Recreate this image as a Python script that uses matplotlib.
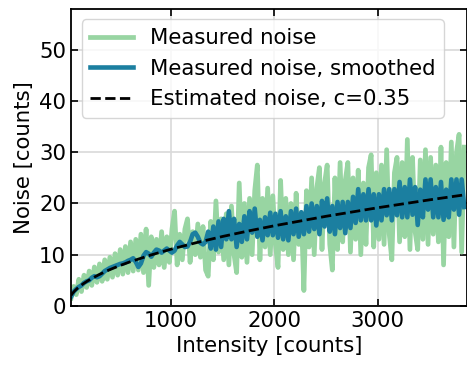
import numpy as np
import matplotlib
matplotlib.use("Agg")
import matplotlib.pyplot as plt

# ---------------- data ----------------
x_start = 35
x_step = 25

measured = [
    1.5, 3.8, 2.2, 5.2, 2.8, 6.0, 3.6, 6.8, 4.0, 7.6,
    4.6, 8.2, 4.8, 9.0, 5.2, 9.5, 5.6, 10.2, 6.0, 11.0,
    6.2, 11.6, 6.5, 12.5, 6.8, 13.0, 7.0, 14.0, 6.5, 15.0,
    4.0, 13.5, 7.5, 13.0, 8.0, 14.5, 7.5, 13.5, 8.5, 15.0,
    18.5, 8.0, 14.0, 9.0, 15.0, 17.0, 8.5, 14.5, 10.0, 16.0,
    9.5, 15.5, 7.0, 5.8, 16.5, 9.0, 20.5, 10.5, 17.0, 9.0,
    18.0, 8.0, 19.5, 10.0, 6.5, 24.0, 9.5, 20.0, 8.5, 21.0,
    10.0, 22.5, 27.5, 9.0, 21.0, 11.5, 23.0, 10.0, 21.5, 12.0,
    7.5, 24.5, 11.0, 21.0, 10.0, 20.0, 9.0, 22.0, 12.0, 18.0,
    3.0, 22.5, 11.5, 25.0, 10.0, 23.0, 27.0, 11.0, 24.0, 27.5,
    12.0, 7.0, 25.0, 11.0, 28.0, 12.5, 24.5, 28.0, 10.5, 25.0,
    13.0, 26.5, 10.0, 24.0, 12.0, 27.0, 29.5, 11.5, 26.0, 13.0,
    27.5, 12.0, 30.5, 14.0, 9.0, 26.0, 29.0, 12.5, 28.0, 13.5,
    32.5, 11.0, 29.0, 14.5, 11.0, 28.5, 13.0, 30.5, 12.0, 29.0,
    14.0, 27.5, 12.5, 31.0, 8.0, 28.0, 13.5, 32.0, 11.5, 30.0,
    33.5, 10.5, 31.0,
]

smoothed = [
    1.8, 2.8, 3.3, 3.7, 4.0, 4.5, 4.8, 5.0, 5.5, 5.8,
    5.6, 5.8, 6.3, 6.8, 7.1, 7.4, 7.6, 7.8, 8.0, 8.2,
    8.3, 8.5, 8.8, 9.0, 9.3, 8.6, 7.6, 8.3, 9.8, 10.5,
    10.2, 9.6, 10.4, 11.0, 10.8, 10.4, 10.8, 11.2, 10.8, 10.4,
    10.8, 11.8, 12.5, 12.0, 11.5, 11.6, 12.5, 14.0, 14.3, 13.5,
    12.3, 12.0, 12.5,
    14.5, 11.2, 15.5, 11.0, 16.5, 11.5, 17.0, 13.0, 18.5, 13.0,
    17.0, 11.5, 16.0, 12.5, 17.5, 13.0, 18.5, 14.3, 19.0, 13.5,
    16.8, 12.8, 17.3, 13.8, 18.2, 13.8, 18.0, 13.3, 18.5, 13.0,
    17.5, 12.8, 18.5, 14.0, 19.0, 13.5, 18.3, 14.0, 19.5, 14.5,
    20.0, 15.0, 19.5, 14.0, 20.5, 15.5, 21.0, 14.5, 19.5, 14.0,
    20.3, 15.2, 20.3, 14.2, 20.3, 15.2, 21.3, 16.2, 22.8, 16.7,
    21.8, 16.7, 22.8, 16.7, 21.8, 15.7, 21.8, 16.7, 22.8, 17.7,
    22.8, 16.7, 22.8, 17.7, 24.2, 17.3, 23.2, 17.3, 24.7, 17.8,
    23.2, 15.8, 22.7, 17.3, 24.7, 18.8, 24.7, 17.3, 23.2, 17.3,
    24.2, 16.8, 22.7, 17.3, 24.7, 18.8, 24.7, 17.8, 24.7, 19.3,
]

est_x = [35, 50, 70, 100, 150, 200, 300, 400, 500, 600, 800, 1000, 1250,
         1500, 1750, 2000, 2500, 3000, 3500, 3857]
est_y = [2.07, 2.47, 2.93, 3.50, 4.29, 4.95, 6.06, 7.00, 7.83, 8.57, 9.90,
         11.07, 12.37, 13.56, 14.64, 15.65, 17.50, 19.17, 20.71, 21.74]

x_ticks = [1000, 2000, 3000]
y_ticks = [0, 10, 20, 30, 40, 50]

x_meas = x_start + x_step * np.arange(len(measured))
x_smooth = x_start + x_step * np.arange(len(smoothed))

# ---------------- plot ----------------
plt.rcParams['font.family'] = ['DejaVu Sans']
FS = 15.3
fig = plt.figure(figsize=(4.67, 3.69), dpi=100)
ax = fig.add_axes([0.152, 0.171, 0.847, 0.805])

ax.plot(x_meas, measured, color='#98d5a2', lw=3.4, label='Measured noise')
ax.plot(x_smooth, smoothed, color='#1b7fa0', lw=3.3,
        label='Measured noise, smoothed')
ax.plot(est_x, est_y, color='black', lw=2.0, ls='--',
        label='Estimated noise, c=0.35')

ax.set_xlim(34, 3857)
ax.set_ylim(0, 58)
ax.set_xticks(x_ticks)
ax.set_yticks(y_ticks)
ax.grid(True, color='#d9d9d9', lw=1.2)
ax.set_axisbelow(True)
ax.tick_params(direction='in', top=True, right=True, labelsize=FS,
               length=5, width=1.2)
for s in ax.spines.values():
    s.set_linewidth(1.3)
ax.set_xlabel('Intensity [counts]', fontsize=FS)
ax.set_ylabel('Noise [counts]', fontsize=FS)
ax.legend(loc='upper left', fontsize=FS, framealpha=0.8,
          borderaxespad=0.5, handlelength=2.0)

fig.savefig('out.png', dpi=100)
